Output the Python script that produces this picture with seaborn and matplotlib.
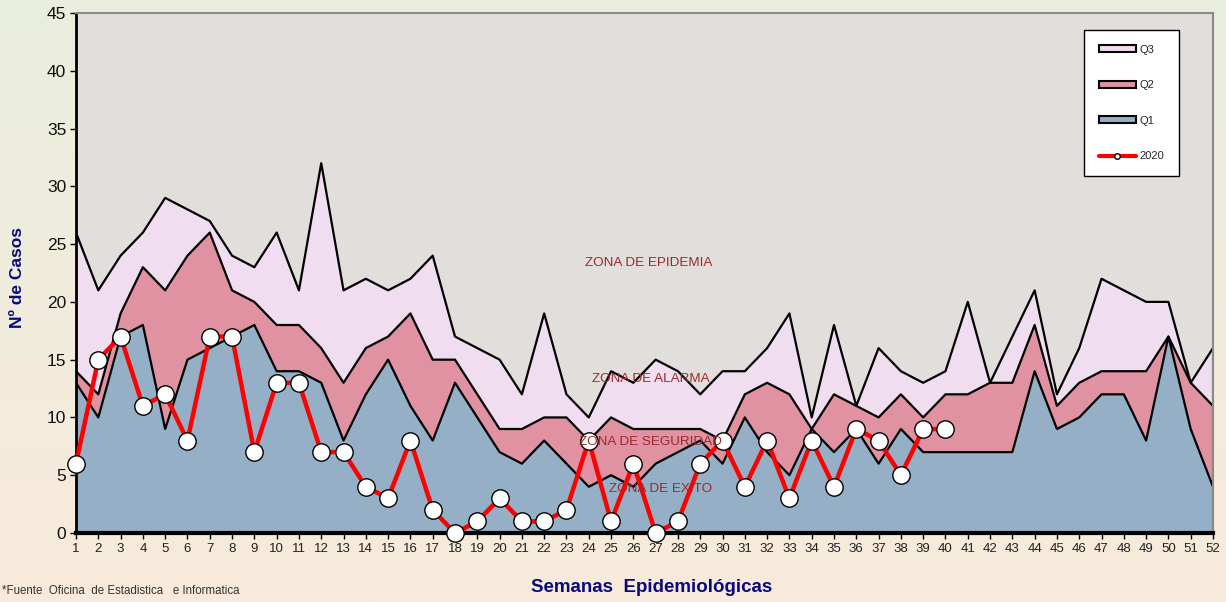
import numpy as np
import pandas as pd
import matplotlib
matplotlib.use("Agg")
import matplotlib.pyplot as plt
from matplotlib.patches import Patch
from matplotlib.lines import Line2D
import seaborn as sns

weeks = list(range(1, 53))
q3 = [26, 21, 24, 26, 29, 28, 27, 24, 23, 26, 21, 32, 21, 22, 21, 22, 24, 17, 16, 15,
      12, 19, 12, 10, 14, 13, 15, 14, 12, 14, 14, 16, 19, 10, 18, 11, 16, 14, 13, 14,
      20, 13, 17, 21, 12, 16, 22, 21, 20, 20, 13, 16]
q2 = [14, 12, 19, 23, 21, 24, 26, 21, 20, 18, 18, 16, 13, 16, 17, 19, 15, 15, 12, 9,
      9, 10, 10, 8, 10, 9, 9, 9, 9, 8, 12, 13, 12, 9, 12, 11, 10, 12, 10, 12,
      12, 13, 13, 18, 11, 13, 14, 14, 14, 17, 13, 11]
q1 = [13, 10, 17, 18, 9, 15, 16, 17, 18, 14, 14, 13, 8, 12, 15, 11, 8, 13, 10, 7,
      6, 8, 6, 4, 5, 4, 6, 7, 8, 6, 10, 7, 5, 9, 7, 9, 6, 9, 7, 7,
      7, 7, 7, 14, 9, 10, 12, 12, 8, 17, 9, 4]
weeks_2020 = list(range(1, 41))
cases_2020 = [6, 15, 17, 11, 12, 8, 17, 17, 7, 13, 13, 7, 7, 4, 3, 8, 2, 0, 1, 3,
              1, 1, 2, 8, 1, 6, 0, 1, 6, 8, 4, 8, 3, 8, 4, 9, 8, 5, 9, 9]
y_ticks = list(range(0, 50, 5))
zone_labels = ["ZONA DE EPIDEMIA", "ZONA DE ALARMA", "ZONA DE SEGURIDAD", "ZONA DE EXITO"]
zone_pos = [(26.7, 23.4), (26.8, 13.3), (26.75, 7.9), (27.2, 3.8)]

sns.set_theme(style="white")
plt.rcParams['font.family'] = ['Liberation Sans', 'DejaVu Sans']

W, H = 1226, 602
fig = plt.figure(figsize=(W / 100, H / 100), dpi=100)

# gradient background
bg = fig.add_axes([0, 0, 1, 1], zorder=-10)
top_c = np.array([0xE9, 0xEE, 0xDE]) / 255
bot_c = np.array([0xF8, 0xEA, 0xDB]) / 255
t = np.linspace(0, 1, 256)[:, None]
grad = (top_c[None, :] * (1 - t) + bot_c[None, :] * t)[:, None, :]
bg.imshow(grad, aspect='auto', extent=[0, 1, 0, 1])
bg.axis('off')

left, right, top, bottom = 76, 1213, 13, 533
ax = fig.add_axes([left / W, 1 - bottom / H, (right - left) / W, (bottom - top) / H])
ax.set_facecolor('#E1DEDB')

df = pd.DataFrame({"week": weeks, "Q3": q3, "Q2": q2, "Q1": q1})
df20 = pd.DataFrame({"week": weeks_2020, "cases": cases_2020})

c_q3, c_q2, c_q1 = '#F0DDEF', '#E091A2', '#95AFC7'
for col, c in [("Q3", c_q3), ("Q2", c_q2), ("Q1", c_q1)]:
    ax.fill_between(df["week"], 0, df[col], facecolor=c, edgecolor='none', zorder=1)
for col in ["Q3", "Q2", "Q1"]:
    sns.lineplot(data=df, x="week", y=col, ax=ax, color='black', linewidth=1.6, zorder=2)
ax.vlines(52, 0, q3[-1], color='black', linewidth=2.2, zorder=2)

sns.lineplot(data=df20, x="week", y="cases", ax=ax, color='#FF0000', linewidth=3.2,
             marker='o', markersize=12.5, markerfacecolor='white', markeredgecolor='black',
             markeredgewidth=1.0, zorder=8, clip_on=False)

for lab, (x, y) in zip(zone_labels, zone_pos):
    ax.text(x, y, lab, ha='center', va='center', fontsize=9.7, color='#9B2A2A', zorder=9)

ax.set_xlim(1, 52)
ax.set_ylim(0, 45)
ax.set_xticks(weeks)
ax.set_xticklabels([str(w) for w in weeks], fontsize=9.5, color='#222222')
ax.set_yticks(y_ticks)
ax.set_yticklabels([str(v) for v in y_ticks], fontsize=12.5, color='#111111')
ax.tick_params(axis='both', direction='out', length=4, width=1, color='black', pad=3,
               bottom=True, left=True)
ax.set_xlabel("")
ax.set_ylabel("")

for s in ['top', 'right']:
    ax.spines[s].set_color('#8A8A8A')
    ax.spines[s].set_linewidth(1.5)
ax.spines['left'].set_color('black')
ax.spines['left'].set_linewidth(2)
ax.spines['bottom'].set_color('black')
ax.spines['bottom'].set_linewidth(3)
for s in ax.spines.values():
    s.set_zorder(7)

handles = [Patch(facecolor=c_q3, edgecolor='black', linewidth=1.5, label='Q3'),
           Patch(facecolor=c_q2, edgecolor='black', linewidth=1.5, label='Q2'),
           Patch(facecolor=c_q1, edgecolor='black', linewidth=1.5, label='Q1'),
           Line2D([0], [0], color='#FF0000', linewidth=3, marker='o', markersize=4,
                  markerfacecolor='white', markeredgecolor='black', label='2020')]
leg = ax.legend(handles=handles, loc='upper right', bbox_to_anchor=(0.970, 0.967),
                borderaxespad=0, fontsize=8, frameon=True, fancybox=False, framealpha=1,
                handlelength=3.4, handleheight=0.55, labelspacing=2.3,
                borderpad=1.3, handletextpad=0.3)
leg.get_frame().set_edgecolor('black')
leg.get_frame().set_facecolor('white')
leg.get_frame().set_linewidth(1)
leg.set_zorder(10)

fig.text(18 / W, 1 - 277 / H, "Nº de Casos", rotation=90, ha='center', va='center',
         fontsize=12.5, fontweight='bold', color='#0A0A80')
fig.text(652 / W, 1 - 587 / H, "Semanas  Epidemiológicas", ha='center', va='center',
         fontsize=13.5, fontweight='bold', color='#0A0A80')
fig.text(2 / W, 1 - 591 / H, "*Fuente  Oficina  de Estadistica   e Informatica",
         ha='left', va='center', fontsize=8.3, color='#333333')

fig.savefig("out.png", dpi=100)
